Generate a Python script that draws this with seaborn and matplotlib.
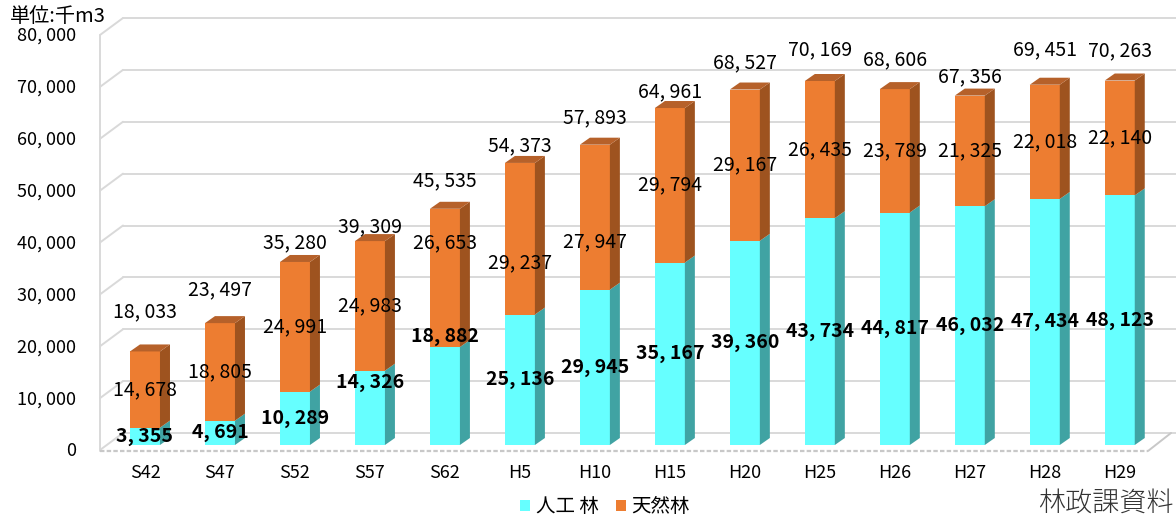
import matplotlib
matplotlib.use("Agg")
import matplotlib.pyplot as plt
from matplotlib.patches import Polygon, Patch
from matplotlib.lines import Line2D
import pandas as pd
import seaborn as sns

# Timber stock by survey year (unit: thousand m3)
periods = ["S42", "S47", "S52", "S57", "S62", "H5", "H10",
           "H15", "H20", "H25", "H26", "H27", "H28", "H29"]
planted = [3355, 4691, 10289, 14326, 18882, 25136, 29945,
           35167, 39360, 43734, 44817, 46032, 47434, 48123]
natural = [14678, 18805, 24991, 24983, 26653, 29237, 27947,
           29794, 29167, 26435, 23789, 21325, 22018, 22140]
totals = [18033, 23497, 35280, 39309, 45535, 54373, 57893,
          64961, 68527, 70169, 68606, 67356, 69451, 70263]
y_ticks = [0, 10000, 20000, 30000, 40000, 50000, 60000, 70000, 80000]
series_names = ["人工 林", "天然林"]

# label placement tweaks (pixels, positive = up)
total_lift = [40, 33, 19, 14, 28, 17, 27, 16, 27, 31, 29, 19, 35, 30]
planted_nudge = {3: 25, 4: 60}
natural_nudge = {4: 35, 5: -24, 6: -25}

CYAN, CYAN_SIDE = "#66FFFF", "#40A3A3"
ORANGE, ORANGE_SIDE, ORANGE_TOP = "#ED7D31", "#9E531F", "#B6612A"
GRID = "#D9D9D9"

sns.set_style("white")
plt.rcParams["font.family"] = ["Noto Sans CJK JP", "DejaVu Sans"]
plt.rcParams["text.color"] = "black"
plt.rcParams["xtick.color"] = "black"

W, H, DPI = 1176, 518, 100
fig = plt.figure(figsize=(W / DPI, H / DPI), dpi=DPI)
ax = fig.add_axes([100 / W, 73 / H, 1070 / W, 415 / H])

df = pd.DataFrame({"period": periods, "planted": planted, "natural": natural})
df["stack"] = df["planted"] + df["natural"]

sns.barplot(data=df, x="period", y="stack", color=ORANGE, saturation=1,
            width=0.4, linewidth=0, ax=ax, zorder=3)
sns.barplot(data=df, x="period", y="planted", color=CYAN, saturation=1,
            width=0.4, linewidth=0, ax=ax, zorder=3)

XMIN, XMAX = -0.6, 13.67
ax.set_xlim(XMIN, XMAX)
ax.set_ylim(0, 80000)
for s in ax.spines.values():
    s.set_visible(False)
ax.set_xlabel("")
ax.set_ylabel("")
ax.set_yticks([])
ax.tick_params(axis="x", length=0, pad=14, labelsize=13, labelcolor="black")

# pixel -> data conversions
PX = (XMAX - XMIN) / 1070
PY = 80000 / 415
DX, DY = 10 * PX, 7 * PY

# 3D walls: back-wall gridlines, left-wall diagonals, floor
back_x = XMIN + 23 * PX
for v in y_ticks:
    ax.add_line(Line2D([back_x, XMAX + 0.2], [v + 12 * PY] * 2, color=GRID,
                       lw=1.4, zorder=1, clip_on=False))
    ax.add_line(Line2D([XMIN, back_x], [v - 5 * PY, v + 12 * PY], color=GRID,
                       lw=1.4, zorder=1, clip_on=False))
ax.add_line(Line2D([XMIN, XMIN], [-6 * PY, 80000 - 5 * PY], color=GRID,
                   lw=1.4, zorder=1, clip_on=False))
floor_r = XMIN + 1048 * PX
ax.add_line(Line2D([XMIN, floor_r], [-6 * PY] * 2, color="#C8C8C8",
                   lw=1.6, ls=(0, (2, 1)), zorder=1, clip_on=False))
ax.add_line(Line2D([floor_r, floor_r + 23 * PX], [-6 * PY, 12 * PY],
                   color="#C8C8C8", lw=1.4, zorder=1, clip_on=False))

# depth faces of each stacked bar
n = len(periods)
for i, (p, nat) in enumerate(zip(planted, natural)):
    bar = ax.patches[i]
    x1 = bar.get_x() + bar.get_width()
    x0 = bar.get_x()
    top = p + nat
    ax.add_patch(Polygon([(x1, 0), (x1 + DX, DY), (x1 + DX, p + DY), (x1, p)],
                         closed=True, fc=CYAN_SIDE, ec="none", zorder=3))
    ax.add_patch(Polygon([(x1, p), (x1 + DX, p + DY), (x1 + DX, top + DY), (x1, top)],
                         closed=True, fc=ORANGE_SIDE, ec="none", zorder=3))
    ax.add_patch(Polygon([(x0, top), (x0 + DX, top + DY), (x1 + DX, top + DY), (x1, top)],
                         closed=True, fc=ORANGE_TOP, ec="none", zorder=3))

# value labels
for i in range(n):
    p, nat, tot = planted[i], natural[i], totals[i]
    ax.text(i, p + nat + total_lift[i] * PY, f"{tot:,}".replace(",", ", "),
            ha="center", va="center", fontsize=14, zorder=5)
    ax.text(i, p + nat / 2 + natural_nudge.get(i, 0) * PY,
            f"{nat:,}".replace(",", ", "),
            ha="center", va="center", fontsize=14, zorder=5)
    ax.text(i, p / 2 + planted_nudge.get(i, 0) * PY,
            f"{p:,}".replace(",", ", "),
            ha="center", va="center", fontsize=14, fontweight="bold", zorder=5)

# value axis labels on the front-left edge
for v in y_ticks:
    ax.text(XMIN - 24 * PX, v - 6 * PY, f"{v:,}".replace(",", ", "),
            ha="right", va="center", fontsize=13)

fig.text(10 / W, 1 - 16 / H, "単位:千m3", ha="left", va="center", fontsize=14.5)

handles = [Patch(fc=CYAN, ec="none"), Patch(fc=ORANGE, ec="none")]
fig.legend(handles, series_names, loc="center", ncol=2, frameon=False,
           bbox_to_anchor=(605 / W, 1 - 507 / H), fontsize=14,
           handlelength=0.5, handleheight=0.5, handletextpad=0.3,
           columnspacing=0.9)

fig.text(1174 / W, 1 - 503 / H, "林政課資料", ha="right", va="center",
         fontsize=19.5, color="#333333", fontweight="light")

fig.savefig("out.png", dpi=DPI)
